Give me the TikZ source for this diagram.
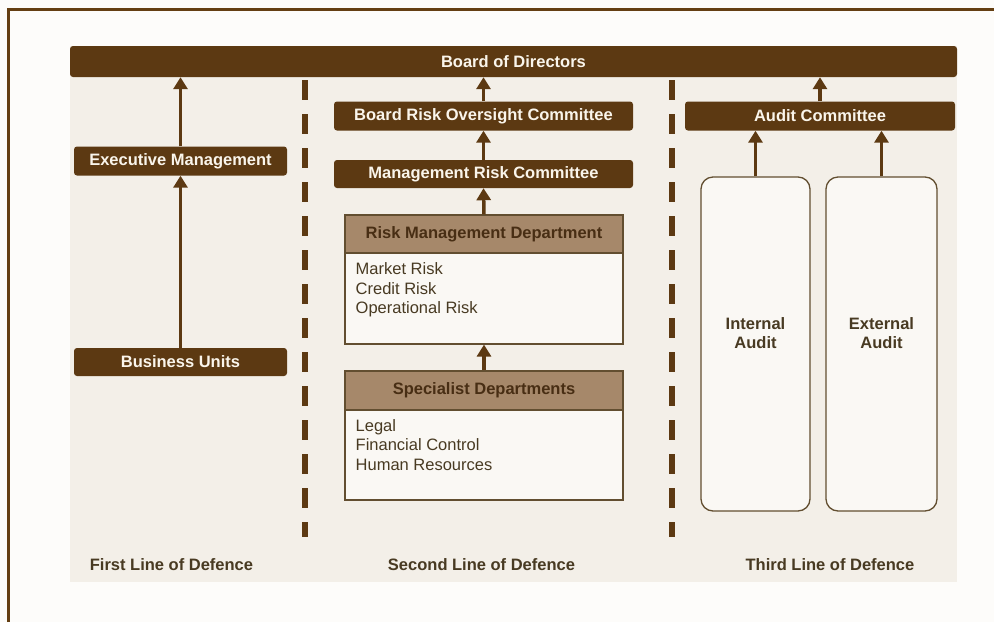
\documentclass[tikz,border=0pt]{standalone}
\usepackage{fontspec}
\setmainfont{Liberation Sans}
\usetikzlibrary{arrows.meta}
\definecolor{dbrown}{RGB}{92,57,18}
\definecolor{cream}{RGB}{250,245,235}
\definecolor{tanhdr}{RGB}{166,136,106}
\definecolor{hdrtext}{RGB}{72,46,20}
\definecolor{boxline}{RGB}{98,78,48}
\definecolor{boxfill}{RGB}{250,248,244}
\definecolor{bodytext}{RGB}{72,58,34}
\definecolor{panelbg}{RGB}{243,239,232}
\definecolor{outerbg}{RGB}{253,252,250}
\definecolor{framec}{RGB}{100,62,18}
\newcommand\dfont{\fontsize{16.5}{19.5}\selectfont}
\tikzset{
  bar/.style={fill=dbrown, text=cream, font=\dfont\bfseries, rounded corners=3pt, inner sep=0pt},
  hdr/.style={fill=tanhdr, draw=boxline, line width=1.2pt, text=hdrtext, font=\dfont\bfseries, inner sep=0pt},
  bodybox/.style={fill=boxfill, draw=boxline, line width=1.2pt, inner sep=0pt},
  listtext/.style={text=bodytext, font=\dfont, align=left, inner sep=0pt, anchor=west},
  auditbox/.style={fill=boxfill, draw=boxline, line width=1.3pt, rounded corners=12pt, inner sep=0pt},
  audittext/.style={text=bodytext, font=\dfont\bfseries, align=center, inner sep=0pt},
  uparrow/.style={draw=dbrown, line width=3.5pt, -{Triangle[width=14pt,length=12pt]}},
  divider/.style={draw=dbrown, line width=5.5pt, dash pattern=on 20pt off 14pt},
  lbl/.style={text=bodytext, font=\dfont\bfseries, inner sep=0pt}
}
\begin{document}
\begin{tikzpicture}[x=1pt,y=-1pt]
\useasboundingbox (0,0) rectangle (994,622);
\fill[outerbg] (0,0) rectangle (994,622);
\fill[panelbg] (70,46) rectangle (957,582);
\draw[framec, line width=3pt] (8,622) -- (8,9) -- (994,9);

% top bar
\node[bar, minimum width=887pt, minimum height=31pt] (board) at (513.5,61.5) {Board of Directors};

% dividers
\coordinate (d1t) at (305,80);
\coordinate (d1b) at (305,537);
\coordinate (d2t) at (672,80);
\coordinate (d2b) at (672,537);
\draw[divider] (d1t) -- (d1b);
\draw[divider] (d2t) -- (d2b);

% first line
\node[bar, minimum width=213pt, minimum height=29pt] (exec) at (180.5,161) {Executive Management};
\node[bar, minimum width=213pt, minimum height=28pt] (bu) at (180.5,362) {Business Units};
\draw[uparrow] (bu.north) -- (exec.south);
\draw[uparrow] (exec.north) -- (exec.north |- board.south);

% second line
\node[bar, minimum width=299pt, minimum height=29pt] (bro) at (483.5,116) {Board Risk Oversight Committee};
\node[bar, minimum width=299pt, minimum height=28pt] (mrc) at (483.5,174) {Management Risk Committee};
\node[bodybox, minimum width=278pt, minimum height=129pt] (rmd) at (484,279.5) {};
\node[hdr, minimum width=278pt, minimum height=38pt, anchor=north] (rmdh) at (rmd.north) {Risk Management Department};
\node[listtext] (rmdl) at (355.5,290) {Market Risk\\Credit Risk\\Operational Risk};
\node[bodybox, minimum width=278pt, minimum height=129pt] (sd) at (484,435.5) {};
\node[hdr, minimum width=278pt, minimum height=39pt, anchor=north] (sdh) at (sd.north) {Specialist Departments};
\node[listtext] (sdl) at (355.5,445) {Legal\\Financial Control\\Human Resources};
\draw[uparrow] (sd.north) -- (rmd.south);
\draw[uparrow] (rmdh.north) -- (mrc.south);
\draw[uparrow] (mrc.north) -- (bro.south);
\draw[uparrow] (bro.north) -- (bro.north |- board.south);

% third line
\node[bar, minimum width=270pt, minimum height=29pt] (ac) at (820,116) {Audit Committee};
\node[auditbox, minimum width=109pt, minimum height=334pt] (ia) at (755.5,344) {};
\node[auditbox, minimum width=111pt, minimum height=334pt] (ea) at (881.5,344) {};
\node[audittext] (iat) at (755.5,333) {Internal\\Audit};
\node[audittext] (eat) at (881.5,333) {External\\Audit};
\draw[uparrow] (ia.north) -- (ia.north |- ac.south);
\draw[uparrow] (ea.north) -- (ea.north |- ac.south);
\draw[uparrow] (ac.north) -- (ac.north |- board.south);

% labels
\node[lbl] (l1) at (171.5,565) {First Line of Defence};
\node[lbl] (l2) at (481.5,565) {Second Line of Defence};
\node[lbl] (l3) at (830,565) {Third Line of Defence};
\end{tikzpicture}
\end{document}
